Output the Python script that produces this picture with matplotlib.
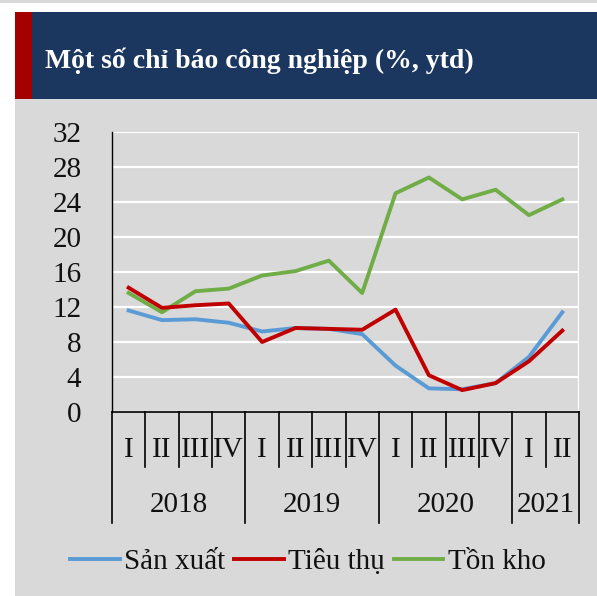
import matplotlib
matplotlib.use("Agg")
import matplotlib.pyplot as plt
from matplotlib.patches import Rectangle
from matplotlib.lines import Line2D
import matplotlib.transforms as mtransforms

plt.rcParams['font.family'] = ['Liberation Serif', 'DejaVu Serif']

quarters = ['I', 'II', 'III', 'IV', 'I', 'II', 'III', 'IV',
            'I', 'II', 'III', 'IV', 'I', 'II']
years = ['2018', '2019', '2020', '2021']
year_spans = [(0, 4), (4, 8), (8, 12), (12, 14)]

san_xuat = [11.6, 10.5, 10.6, 10.2, 9.2, 9.6, 9.5, 8.9, 5.3, 2.7, 2.6, 3.3, 6.3, 11.4]
tieu_thu = [14.2, 11.9, 12.2, 12.4, 8.0, 9.6, 9.5, 9.4, 11.7, 4.2, 2.5, 3.3, 5.8, 9.3]
ton_kho = [13.6, 11.4, 13.8, 14.1, 15.6, 16.1, 17.3, 13.6, 25.0, 26.8, 24.3, 25.4, 22.5, 24.3]

W, H = 597, 596
fig = plt.figure(figsize=(W / 100, H / 100), dpi=100)
fig.patch.set_facecolor('white')

def px_rect(x0, y0, x1, y1, color):
    # pixel box (top-down y) -> figure fraction rectangle
    fig.patches.append(Rectangle((x0 / W, 1 - y1 / H), (x1 - x0) / W, (y1 - y0) / H,
                                 transform=fig.transFigure, color=color, zorder=-5, lw=0))

px_rect(0, 0, W, 3, '#d9d9d9')
px_rect(15, 99, W, H, '#d9d9d9')
px_rect(15, 12, W, 99, '#1b375f')
px_rect(15, 12, 32, 99, '#a50000')

fig.text(45 / W, 1 - 68 / H, 'Một số chỉ báo công nghiệp (%, ytd)', color='white',
         fontsize=20, fontweight='bold', va='baseline', ha='left')

# plot area
left, right, top, bottom = 112, 579, 132, 412
ax = fig.add_axes([left / W, 1 - bottom / H, (right - left) / W, (bottom - top) / H])
ax.set_zorder(2)
ax.set_facecolor('none')
ax.set_xlim(0, 14)
ax.set_ylim(0, 32)
ax.set_yticks(range(0, 33, 4))
ax.set_xticks([])
ax.grid(axis='y', color='white', lw=1.6, zorder=1)
ax.axvline(14, color='white', lw=1.6, zorder=1)
for s in ['top', 'right']:
    ax.spines[s].set_visible(False)
ax.spines['left'].set_color('black')
ax.spines['bottom'].set_color('black')
ax.spines['left'].set_linewidth(1.0)
ax.spines['bottom'].set_linewidth(1.2)
ax.spines['left'].set_zorder(3)
ax.spines['bottom'].set_zorder(3)
ax.tick_params(axis='y', length=0, pad=22, labelsize=21, labelcolor='#111111')

xs = [i + 0.5 for i in range(len(quarters))]
ax.plot(xs, san_xuat, color='#5b9bd5', lw=2.8, label='Sản xuất', zorder=4)
ax.plot(xs, tieu_thu, color='#c00000', lw=2.8, label='Tiêu thụ', zorder=5)
ax.plot(xs, ton_kho, color='#70ad47', lw=2.8, label='Tồn kho', zorder=4)

# multi-level category axis
ph = bottom - top
trans = mtransforms.blended_transform_factory(ax.transData, ax.transAxes)
q_tick = -(467 - bottom) / ph
y_tick = -(523 - bottom) / ph
year_edges = {a for a, b in year_spans} | {b for a, b in year_spans}
for i in range(len(quarters) + 1):
    y_end = y_tick if i in year_edges else q_tick
    ax.add_line(Line2D([i, i], [0, y_end], transform=trans, color='black', lw=1.2, clip_on=False))
for i, q in enumerate(quarters):
    ax.text(i + 0.5, -(450 - bottom) / ph, q, transform=trans, ha='center', va='center',
            fontsize=21, color='#111111')
for (a, b), yr in zip(year_spans, years):
    ax.text((a + b) / 2, -(505 - bottom) / ph, yr, transform=trans, ha='center', va='center',
            fontsize=21, color='#111111')

fig.legend(loc='center', bbox_to_anchor=(308 / W, 1 - 562 / H), ncol=3, frameon=False,
           fontsize=21, handlelength=1.7, handletextpad=0.15, columnspacing=0.3,
           labelcolor='#111111')

fig.savefig('out.png', dpi=100)
